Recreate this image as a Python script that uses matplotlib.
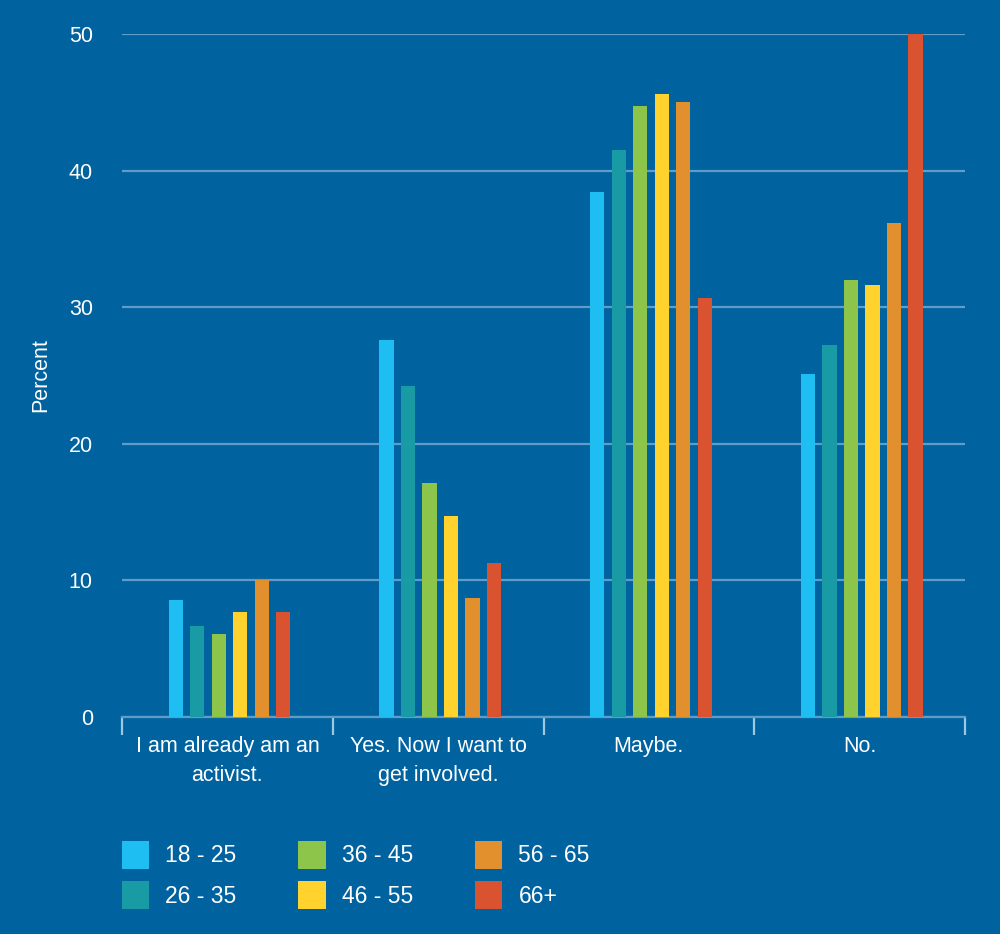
import numpy as np
import matplotlib.pyplot as plt
from matplotlib.patches import Patch

plt.rcParams['font.family'] = ['Liberation Sans', 'DejaVu Sans']

# 问卷回答类别与年龄段
categories = ["I am already am an\nactivist.", "Yes. Now I want to\nget involved.", "Maybe.", "No."]
age_groups = ["18 - 25", "26 - 35", "36 - 45", "46 - 55", "56 - 65", "66+"]

# 每个年龄段在四个回答上的百分比
pct_18_25 = [8.6, 27.6, 38.4, 25.1]
pct_26_35 = [6.7, 24.2, 41.5, 27.2]
pct_36_45 = [6.1, 17.1, 44.7, 32.0]
pct_46_55 = [7.7, 14.7, 45.6, 31.6]
pct_56_65 = [10.0, 8.7, 45.0, 36.2]
pct_66_plus = [7.7, 11.3, 30.7, 50.0]

colors = ["#1FBEF2", "#199BA6", "#8DC44A", "#FFD22E", "#E28F2D", "#D95330"]
bg = "#00629F"
grid_c = "#5F9CC8"


def main():
    series = [pct_18_25, pct_26_35, pct_36_45, pct_46_55, pct_56_65, pct_66_plus]

    fig = plt.figure(figsize=(10, 9.34), dpi=100, facecolor=bg)
    ax = fig.add_axes([0.122, 0.2323, 0.843, 0.7313])
    ax.set_facecolor(bg)

    x = np.arange(len(categories))
    step = 0.102
    width = 0.067
    for i, (vals, c) in enumerate(zip(series, colors)):
        offs = (i - 2.5) * step + 0.01
        ax.bar(x + offs, vals, width=width, color=c, zorder=3, label=age_groups[i])

    ax.set_xlim(-0.5, len(categories) - 0.5)
    ax.set_ylim(0, 50)
    ax.set_yticks([0, 10, 20, 30, 40, 50])
    ax.yaxis.grid(True, color=grid_c, linewidth=1.6, zorder=0)
    ax.set_axisbelow(True)

    for s in ["top", "right", "left"]:
        ax.spines[s].set_visible(False)
    ax.spines["bottom"].set_color(grid_c)
    ax.spines["bottom"].set_linewidth(1.6)

    # 类别标签放在组中心，刻度线放在组边界
    ax.set_xticks(np.arange(-0.5, len(categories)), minor=False)
    ax.set_xticklabels([])
    ax.tick_params(axis="x", length=13, width=1.6, color="#9CC8E6", direction="out")
    ax.set_xticks(x, minor=True)
    ax.set_xticklabels(categories, minor=True, color="white", fontsize=15.5,
                       linespacing=1.45)
    ax.tick_params(axis="x", which="minor", length=0, pad=14)

    ax.tick_params(axis="y", length=0, pad=21, labelcolor="white", labelsize=15.5)
    ax.set_ylabel("Percent", color="white", fontsize=15.5)
    ax.yaxis.set_label_coords(-0.084, 0.5)

    handles = [Patch(facecolor=c, edgecolor="none") for c in colors]
    fig.legend(handles, age_groups, loc="upper left",
               bbox_to_anchor=(0.101, 1 - 820 / 934), ncol=3, frameon=False,
               fontsize=16.5, labelcolor="white", handlelength=1.2, handleheight=1.5,
               handletextpad=0.7, columnspacing=2.7, labelspacing=0.55)

    fig.savefig("out.png", dpi=100, facecolor=bg)


if __name__ == "__main__":
    main()
